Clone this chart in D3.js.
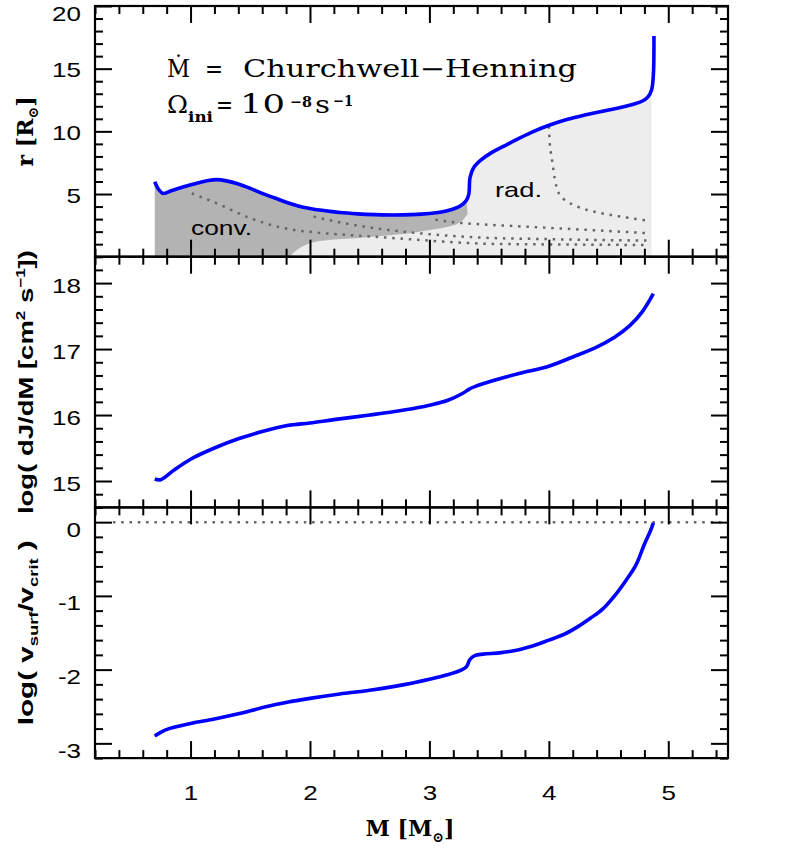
<!DOCTYPE html>
<html>
<head>
<meta charset="utf-8">
<script src="https://cdn.jsdelivr.net/npm/d3@7"></script>
<style>
  body { margin: 0; background: #fff; }
  svg { display: block; }
</style>
</head>
<body>
<div id="chart"></div>
<script>
// ---- data ----
// panel 1 : radius r [Rsun] vs mass
const massR  = [0.70, 0.73, 0.77, 0.85, 0.95, 1.05, 1.15, 1.22, 1.30, 1.40, 1.50, 1.60, 1.70, 1.80, 1.90, 2.00, 2.10, 2.25, 2.40, 2.55, 2.70, 2.85, 3.00, 3.10, 3.18, 3.24, 3.28, 3.31, 3.33, 3.34, 3.37, 3.43, 3.52, 3.62, 3.72, 3.85, 3.99, 4.15, 4.30, 4.45, 4.60, 4.70, 4.78, 4.83, 4.86, 4.875, 4.88];
const radius = [5.98, 5.40, 5.05, 5.30, 5.60, 5.85, 6.08, 6.15, 6.05, 5.80, 5.45, 5.05, 4.70, 4.35, 4.05, 3.85, 3.70, 3.52, 3.42, 3.36, 3.33, 3.36, 3.45, 3.57, 3.75, 3.95, 4.20, 4.50, 5.00, 6.30, 7.10, 7.70, 8.30, 8.80, 9.30, 9.90, 10.45, 10.95, 11.30, 11.60, 11.90, 12.15, 12.40, 12.75, 13.30, 14.50, 17.60];

// inner edge of the convective zone (dark grey), from its right end back to the left
const convEdgeM = [3.32, 3.28, 3.22, 3.12, 2.95, 2.84, 2.60, 2.40, 2.20, 2.08, 2.00, 1.93, 1.87, 1.83, 0.70];
const convEdgeR = [3.40, 2.90, 2.55, 2.30, 2.05, 1.88, 1.65, 1.50, 1.38, 1.25, 1.10, 0.80, 0.40, 0.00, 0.00];

// dotted lines in panel 1
const dotBM = [1.01, 1.22, 1.50, 1.78, 2.03, 2.30, 2.60, 2.90, 3.20, 3.50, 4.00, 4.50, 4.82];
const dotBR = [5.05, 4.26, 3.07, 2.28, 1.95, 1.75, 1.55, 1.35, 1.15, 1.03, 0.98, 0.95, 0.93];
const dotAM = [2.03, 2.30, 2.60, 2.90, 3.20, 3.50, 4.00, 4.50, 4.82];
const dotAR = [3.20, 2.65, 2.20, 1.88, 1.65, 1.50, 1.40, 1.32, 1.29];
const dotCM = [3.05, 3.20, 3.40, 3.70, 4.00, 4.40, 4.82];
const dotCR = [2.95, 2.75, 2.60, 2.45, 2.30, 2.10, 1.88];
const dotDM = [4.00, 4.01, 4.03, 4.05, 4.07, 4.10, 4.18, 4.32, 4.45, 4.60, 4.82];
const dotDR = [10.4, 8.8, 7.5, 6.2, 5.4, 4.8, 4.26, 3.73, 3.45, 3.20, 2.88];

// panel 2 : log dJ/dM
const massJ = [0.70, 0.75, 0.85, 1.00, 1.20, 1.40, 1.60, 1.81, 2.00, 2.20, 2.50, 2.80, 3.00, 3.15, 3.28, 3.33, 3.38, 3.55, 3.75, 4.00, 4.20, 4.40, 4.55, 4.68, 4.78, 4.875];
const logDJ = [15.03, 15.02, 15.15, 15.33, 15.50, 15.64, 15.75, 15.84, 15.88, 15.93, 16.00, 16.08, 16.15, 16.22, 16.33, 16.39, 16.43, 16.53, 16.63, 16.74, 16.88, 17.03, 17.18, 17.36, 17.56, 17.84];

// panel 3 : log v_surf/v_crit
const massV = [0.70, 0.75, 0.82, 1.00, 1.20, 1.40, 1.64, 1.82, 2.00, 2.25, 2.50, 2.80, 3.00, 3.15, 3.26, 3.31, 3.34, 3.38, 3.45, 3.60, 3.75, 3.90, 4.00, 4.13, 4.25, 4.35, 4.45, 4.55, 4.65, 4.73, 4.80, 4.85, 4.875];
const logV  = [-2.90, -2.85, -2.80, -2.73, -2.67, -2.60, -2.50, -2.44, -2.39, -2.33, -2.28, -2.20, -2.13, -2.07, -2.01, -1.96, -1.86, -1.81, -1.79, -1.77, -1.73, -1.66, -1.60, -1.52, -1.41, -1.30, -1.18, -1.00, -0.78, -0.58, -0.30, -0.12, -0.01];

const xTicks = [1, 2, 3, 4, 5];
const rTicks = [5, 10, 15, 20];
const jTicks = [15, 16, 17, 18];
const vTicks = [0, -1, -2, -3];

// ---- layout ----
const width = 786, height = 848;
const left = 95, right = 728, top0 = 6, panelH = 250.7;
const sans = "'Liberation Sans', Helvetica, Arial, sans-serif";
const serif = "'DejaVu Serif', 'Liberation Serif', serif";
const tickStretch = 1.3;

const svg = d3.select("#chart").append("svg")
    .attr("width", width)
    .attr("height", height);

const x = d3.scaleLinear().domain([0.2, 5.5]).range([left, right]);
const xMinor = d3.range(0.2, 5.51, 0.2).filter(v => Math.abs(v - Math.round(v)) > 1e-6);

function pts(ms, vs) { return ms.map((m, i) => ({ m: m, v: vs[i] })); }

// the original plot font is much wider than the installed ones: stretch glyphs
function fit(sel, target) {
    const w = sel.node().getComputedTextLength();
    sel.attr("textLength", target).attr("lengthAdjust", "spacingAndGlyphs");
    return sel;
}

function axes(g, y, major, minorStep, labelDy, firstDy, xLabels) {
    const yTop = y.range()[1], yBot = y.range()[0];
    const d = y.domain();
    const yMinor = d3.range(d[0], d[1] + 1e-6, minorStep)
        .filter(v => !major.some(t => Math.abs(t - v) < 1e-6));

    const ax = [];
    ax.push(g.append("g").attr("transform", `translate(${left},0)`)
        .call(d3.axisLeft(y).tickValues(major).tickSize(-17).tickPadding(14)));
    ax.push(g.append("g").attr("transform", `translate(${left},0)`)
        .call(d3.axisLeft(y).tickValues(yMinor).tickSize(-8).tickFormat("")));
    ax.push(g.append("g").attr("transform", `translate(${right},0)`)
        .call(d3.axisRight(y).tickValues(major).tickSize(-17).tickFormat("")));
    ax.push(g.append("g").attr("transform", `translate(${right},0)`)
        .call(d3.axisRight(y).tickValues(yMinor).tickSize(-8).tickFormat("")));
    ax.push(g.append("g").attr("transform", `translate(0,${yTop})`)
        .call(d3.axisTop(x).tickValues(xTicks).tickSize(-17).tickFormat("")));
    ax.push(g.append("g").attr("transform", `translate(0,${yTop})`)
        .call(d3.axisTop(x).tickValues(xMinor).tickSize(-8).tickFormat("")));
    ax.push(g.append("g").attr("transform", `translate(0,${yBot})`)
        .call(d3.axisBottom(x).tickValues(xTicks).tickSize(-17).tickPadding(28)
            .tickFormat(xLabels ? d3.format("d") : "")));
    ax.push(g.append("g").attr("transform", `translate(0,${yBot})`)
        .call(d3.axisBottom(x).tickValues(xMinor).tickSize(-8).tickFormat("")));

    ax.forEach(a => {
        a.select(".domain").remove();
        a.selectAll("line").attr("stroke", "#000").attr("stroke-width", 2);
        a.selectAll("text").attr("font-family", sans).attr("font-size", 20).attr("fill", "#000");
    });
    ax[0].selectAll("text")
        .attr("dy", v => (v === firstDy ? 14 : labelDy) + "px")
        .attr("x", -14 / tickStretch)
        .attr("transform", `scale(${tickStretch},1)`)
        .text(v => String(v).replace("\u2212", "-"));
    if (xLabels) ax[6].selectAll("text").attr("transform", `scale(${tickStretch},1)`);

    g.append("rect")
        .attr("x", left).attr("y", yTop)
        .attr("width", right - left).attr("height", yBot - yTop)
        .attr("fill", "none").attr("stroke", "#000").attr("stroke-width", 2.2);
}

// ---- panel 1 ----
const y1 = d3.scaleLinear().domain([0, 20]).range([top0 + panelH, top0]);
const g1 = svg.append("g");

const rPts = pts(massR, radius);
const lightPts = rPts.filter(p => p.m >= 1.8 && p.v < 14);
g1.append("path")
    .attr("d", d3.area().x(p => x(p.m)).y0(y1(0)).y1(p => y1(p.v))(lightPts))
    .attr("fill", "#ededed");

const convPts = rPts.filter(p => p.m <= 3.31).concat(pts(convEdgeM, convEdgeR));
g1.append("path")
    .attr("d", d3.line().x(p => x(p.m)).y(p => y1(p.v))(convPts) + "Z")
    .attr("fill", "#b3b3b3");

const dotLine = d3.line().x(p => x(p.m)).y(p => y1(p.v)).curve(d3.curveMonotoneX);
[[dotBM, dotBR], [dotAM, dotAR], [dotCM, dotCR]].forEach(s => {
    g1.append("path")
        .attr("d", dotLine(pts(s[0], s[1])))
        .attr("fill", "none").attr("stroke", "#666").attr("stroke-width", 2.5)
        .attr("stroke-dasharray", "2.5 5.8");
});
g1.append("path")
    .attr("d", d3.line().x(p => x(p.m)).y(p => y1(p.v)).curve(d3.curveCatmullRom)(pts(dotDM, dotDR)))
    .attr("fill", "none").attr("stroke", "#666").attr("stroke-width", 2.5)
    .attr("stroke-dasharray", "2.5 5.8");

g1.append("path")
    .attr("d", d3.line().x(p => x(p.m)).y(p => y1(p.v)).curve(d3.curveCatmullRom)(rPts))
    .attr("fill", "none").attr("stroke", "#0000ff").attr("stroke-width", 3.6);

fit(g1.append("text").attr("x", 191).attr("y", 235)
    .attr("font-family", sans).attr("font-size", 21).text("conv."), 61);
fit(g1.append("text").attr("x", 495).attr("y", 197)
    .attr("font-family", sans).attr("font-size", 21).text("rad."), 47);

// title block
const t1 = g1.append("g").attr("font-family", serif).attr("fill", "#000");
function piece(px, py, size, str, w, bold) {
    const t = t1.append("text").attr("x", px).attr("y", py).attr("font-size", size)
        .attr("font-weight", bold ? "bold" : "normal").text(str);
    if (w) fit(t, w);
    return t;
}
piece(167, 77, 24, "\u1E40", 23);
piece(205, 77, 24, "=", 18);
piece(243, 77, 24, "Churchwell\u2212Henning", 334);
piece(167, 113, 24, "\u03A9", 21);
piece(188, 122, 15, "ini", 25, true);
piece(216, 113, 24, "=", 17);
piece(240, 113, 26, "10", 45);
piece(290, 107, 15, "\u22128", 22, true);
piece(315, 113, 24, "s", 15);
piece(333, 106, 15, "\u22121", 20, true);

axes(g1, y1, rTicks, 1, 8, 20, false);

// ---- panel 2 ----
const y2 = d3.scaleLinear().domain([14.6, 18.4]).range([top0 + 2 * panelH, top0 + panelH]);
const g2 = svg.append("g");
g2.append("path")
    .attr("d", d3.line().x(p => x(p.m)).y(p => y2(p.v)).curve(d3.curveCatmullRom)(pts(massJ, logDJ)))
    .attr("fill", "none").attr("stroke", "#0000ff").attr("stroke-width", 3.6);
axes(g2, y2, jTicks, 0.2, 9, null, false);

// ---- panel 3 ----
const y3 = d3.scaleLinear().domain([-3.2, 0.2]).range([top0 + 3 * panelH, top0 + 2 * panelH]);
const g3 = svg.append("g");
g3.append("line")
    .attr("x1", x(0.35)).attr("x2", right).attr("y1", y3(0)).attr("y2", y3(0))
    .attr("stroke", "#666").attr("stroke-width", 2.5).attr("stroke-dasharray", "2.5 5.8");
g3.append("path")
    .attr("d", d3.line().x(p => x(p.m)).y(p => y3(p.v)).curve(d3.curveCatmullRom)(pts(massV, logV)))
    .attr("fill", "none").attr("stroke", "#0000ff").attr("stroke-width", 3.6);
axes(g3, y3, vTicks, 0.2, 14, null, true);

// ---- axis titles ----
const lab1 = svg.append("text").attr("transform", `translate(33,${top0 + panelH / 2}) rotate(-90)`)
    .attr("text-anchor", "middle").attr("font-family", serif).attr("font-size", 22).attr("font-weight", "bold");
lab1.append("tspan").text("r [R");
lab1.append("tspan").attr("font-size", 14).attr("dy", 5).text("\u2299");
lab1.append("tspan").attr("dy", -5).text("]");

const lab2 = svg.append("text").attr("transform", `translate(33,${top0 + 1.5 * panelH}) rotate(-90)`)
    .attr("text-anchor", "middle").attr("font-family", sans).attr("font-size", 21).attr("font-weight", "bold");
lab2.append("tspan").text("log( dJ/dM [cm");
lab2.append("tspan").attr("font-size", 13).attr("dy", -8).text("2");
lab2.append("tspan").attr("dy", 8).text(" s");
lab2.append("tspan").attr("font-size", 13).attr("dy", -8).text("\u22121");
lab2.append("tspan").attr("dy", 8).text("])");
fit(lab2, 264);

const lab3 = svg.append("text").attr("transform", `translate(33,${top0 + 2.5 * panelH}) rotate(-90)`)
    .attr("text-anchor", "middle").attr("font-family", sans).attr("font-size", 21).attr("font-weight", "bold");
lab3.append("tspan").text("log( v");
lab3.append("tspan").attr("font-size", 13).attr("dy", 5).text("surf");
lab3.append("tspan").attr("dy", -5).text("/v");
lab3.append("tspan").attr("font-size", 13).attr("dy", 5).text("crit");
lab3.append("tspan").attr("dy", -5).text(" )");
fit(lab3, 185);

const labx = svg.append("text").attr("x", 410).attr("y", 836)
    .attr("text-anchor", "middle").attr("font-family", serif).attr("font-size", 22).attr("font-weight", "bold");
labx.append("tspan").text("M [M");
labx.append("tspan").attr("font-size", 14).attr("dy", 6).text("\u2299");
labx.append("tspan").attr("dy", -6).text("]");
</script>
</body>
</html>
